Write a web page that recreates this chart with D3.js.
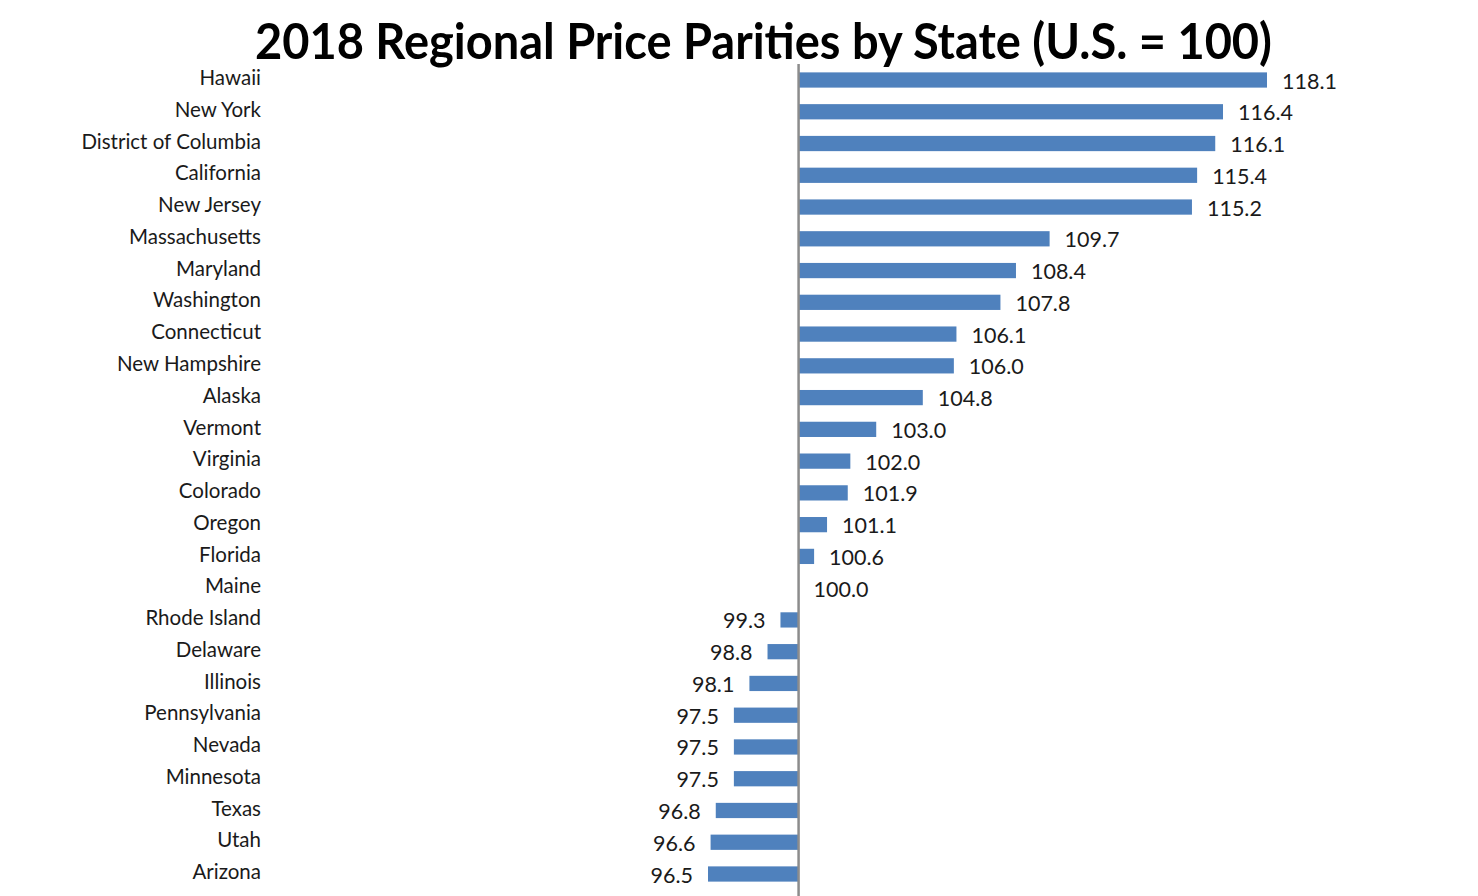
<!DOCTYPE html>
<html>
<head>
<meta charset="utf-8">
<script src="https://cdn.jsdelivr.net/npm/d3@7"></script>
<style>
  body { margin: 0; background: #fff; overflow: hidden; }
  text { font-family: Lato, "Open Sans", sans-serif; }
</style>
</head>
<body>
<svg></svg>
<script>
// Data
const states = ["Hawaii", "New York", "District of Columbia", "California", "New Jersey",
    "Massachusetts", "Maryland", "Washington", "Connecticut", "New Hampshire", "Alaska",
    "Vermont", "Virginia", "Colorado", "Oregon", "Florida", "Maine", "Rhode Island",
    "Delaware", "Illinois", "Pennsylvania", "Nevada", "Minnesota", "Texas", "Utah", "Arizona"];
const parities = [118.1, 116.4, 116.1, 115.4, 115.2, 109.7, 108.4, 107.8, 106.1, 106.0, 104.8,
    103.0, 102.0, 101.9, 101.1, 100.6, 100.0, 99.3, 98.8, 98.1, 97.5, 97.5, 97.5, 96.8, 96.6, 96.5];
const baseline = 100;
const title = "2018 Regional Price Parities by State (U.S. = 100)";

const width = 1478;
const height = 896;
const rowStep = 31.76;

const svg = d3.select("svg")
    .attr("width", width)
    .attr("height", height);

const x = d3.scaleLinear()
    .domain([96.5, 118.1])
    .range([708, 1267]);

// paddingInner == 2 * paddingOuter keeps the step equal to rowStep
const y = d3.scaleBand()
    .domain(states)
    .range([80 - rowStep / 2, 80 - rowStep / 2 + rowStep * states.length])
    .paddingInner(0.52)
    .paddingOuter(0.26);

// Bars
svg.selectAll("rect.bar")
    .data(states)
    .join("rect")
    .attr("class", "bar")
    .attr("x", (d, i) => Math.min(x(parities[i]), x(baseline)))
    .attr("y", d => y(d))
    .attr("width", (d, i) => Math.abs(x(parities[i]) - x(baseline)))
    .attr("height", y.bandwidth())
    .attr("fill", "#4f81bd");

// Vertical axis line at 100
svg.append("line")
    .attr("x1", x(baseline))
    .attr("x2", x(baseline))
    .attr("y1", 64)
    .attr("y2", height)
    .attr("stroke", "#8c8c8c")
    .attr("stroke-width", 2.5);

// Category labels
svg.selectAll("text.cat")
    .data(states)
    .join("text")
    .attr("class", "cat")
    .attr("x", 261)
    .attr("y", d => y(d) + y.bandwidth() / 2 - 2)
    .attr("dy", "0.35em")
    .attr("text-anchor", "end")
    .attr("font-size", 20.5)
    .attr("fill", "#1a1a1a")
    .text(d => d);

// Value labels
svg.selectAll("text.val")
    .data(states)
    .join("text")
    .attr("class", "val")
    .attr("x", (d, i) => parities[i] >= baseline ? x(parities[i]) + 15 : x(parities[i]) - 15)
    .attr("y", d => y(d) + y.bandwidth() / 2 + 1)
    .attr("dy", "0.35em")
    .attr("text-anchor", (d, i) => parities[i] >= baseline ? "start" : "end")
    .attr("font-size", 21.5)
    .attr("fill", "#1a1a1a")
    .text((d, i) => parities[i].toFixed(1));

// Title, stretched to the reference width
svg.append("text")
    .attr("x", 255)
    .attr("y", 59)
    .attr("font-size", 50)
    .attr("font-weight", "bold")
    .attr("fill", "#000")
    .attr("textLength", 1017)
    .attr("lengthAdjust", "spacingAndGlyphs")
    .text(title);
</script>
</body>
</html>
